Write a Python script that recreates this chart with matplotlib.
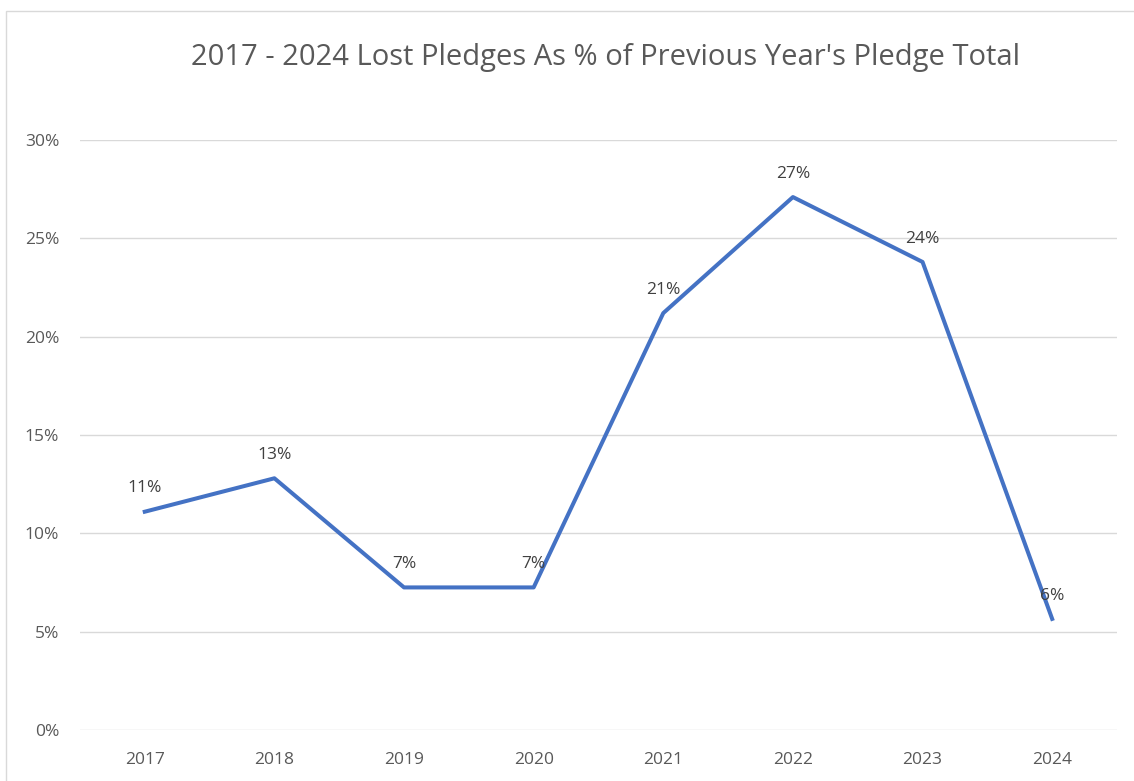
import matplotlib.pyplot as plt
from matplotlib.patches import Rectangle

years = ['2017', '2018', '2019', '2020', '2021', '2022', '2023', '2024']
lost_pct = [11.1, 12.8, 7.25, 7.25, 21.2, 27.1, 23.8, 5.65]
labels = ['11%', '13%', '7%', '7%', '21%', '27%', '24%', '6%']
yticks = [0, 5, 10, 15, 20, 25, 30]

plt.rcParams['font.family'] = ['Open Sans', 'DejaVu Sans']

fig = plt.figure(figsize=(11.34, 7.81), dpi=100)
ax = fig.add_axes([0.0705, 0.0653, 0.9145, 0.7554])

# outer chart border like Excel
fig.patches.append(Rectangle((6 / 1134, -0.01), 1.02, 1 - 11 / 781 + 0.01,
                             transform=fig.transFigure, fill=False,
                             edgecolor='#d9d9d9', linewidth=1))

x = range(len(years))
ax.plot(x, lost_pct, color='#4472C4', linewidth=2.9, solid_joinstyle='round')

for i, (v, lab) in enumerate(zip(lost_pct, labels)):
    ax.annotate(lab, (i, v), xytext=(0, 11), textcoords='offset points',
                ha='center', va='bottom', fontsize=12.5, color='#404040')

ax.set_xlim(-0.5, len(years) - 0.5)
ax.set_ylim(0, 30)
ax.set_xticks(list(x))
ax.set_xticklabels(years)
ax.set_yticks(yticks)
ax.set_yticklabels([f'{t}%' for t in yticks])
ax.tick_params(axis='both', length=0, labelsize=12.5, labelcolor='#595959')
ax.tick_params(axis='x', pad=16)
ax.tick_params(axis='y', pad=15)

ax.grid(axis='y', color='#d9d9d9', linewidth=1)
ax.set_axisbelow(True)
for s in ax.spines.values():
    s.set_visible(False)

fig.text(0.534, 0.926, "2017 - 2024 Lost Pledges As % of Previous Year's Pledge Total",
         ha='center', va='center', fontsize=21, color='#595959')

fig.savefig('out.png', dpi=100)
